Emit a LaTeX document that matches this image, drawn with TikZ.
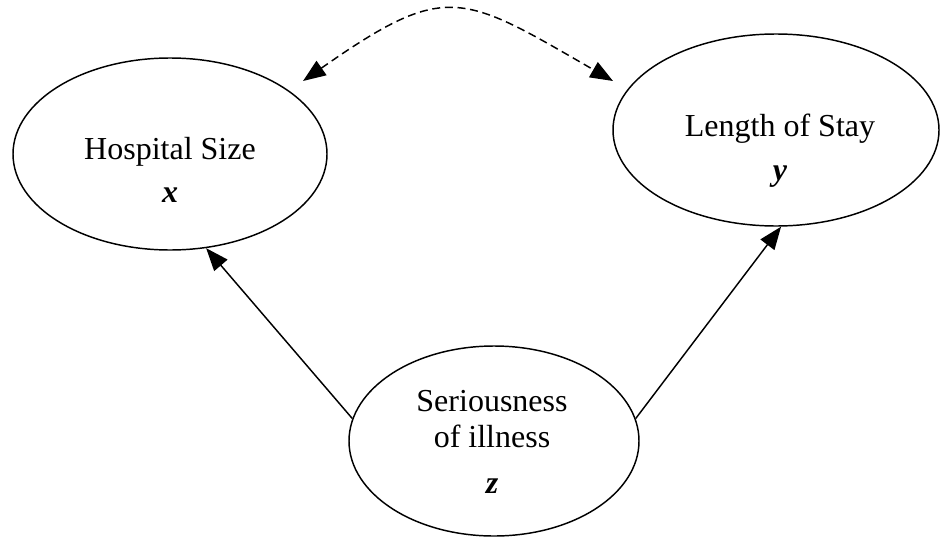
\documentclass[tikz,border=0pt]{standalone}
\usepackage{fontspec}
\setmainfont{Liberation Serif}
\usetikzlibrary{shapes.geometric,arrows.meta}
\tikzstyle{var}=[ellipse,draw=black,line width=1.1pt,inner sep=0pt]
\tikzstyle{txt}=[anchor=base,inner sep=0pt,font=\fontsize{24}{29}\selectfont]
\tikzstyle{arr}=[-{Triangle[length=17pt,width=13pt]},line width=1.1pt]
\tikzstyle{both}=[{Triangle[length=17pt,width=13pt]}-{Triangle[length=17pt,width=13pt]},line width=1.1pt,dash pattern=on 6pt off 3.5pt]

\begin{document}
\begin{tikzpicture}[x=0.75pt,y=0.75pt]
\useasboundingbox (0,0) rectangle (941,537);

% the three variables
\node (hs) at (170,383) [var,minimum width=235.5pt,minimum height=144pt] {};
\node (los) at (776,407) [var,minimum width=244.5pt,minimum height=144pt] {};
\node (sz) at (494,96) [var,minimum width=217.5pt,minimum height=142.5pt] {};

\node (hs-t) at ([shift={(0,-5)}]hs.center) [txt] {Hospital Size};
\node (hs-v) at ([shift={(0,-48)}]hs.center) [txt] {\textbf{\textit{x}}};
\node (los-t) at ([shift={(4,-6)}]los.center) [txt] {Length of Stay};
\node (los-v) at ([shift={(4,-50)}]los.center) [txt] {\textbf{\textit{y}}};
\node (sz-t) at ([shift={(-2,30)}]sz.center) [txt] {Seriousness};
\node (sz-u) at ([shift={(-2,-6)}]sz.center) [txt] {of illness};
\node (sz-v) at ([shift={(-2,-52)}]sz.center) [txt] {\textbf{\textit{z}}};

% causal links
\draw[arr] (sz.171) -- (hs.291);
\draw[arr] (sz.9) -- (los.273.5);

% correlation
\coordinate (hs-c) at ([shift={(133,73)}]hs.center);
\coordinate (los-c) at ([shift={(-163,49)}]los.center);
\draw[both] (hs-c) to [out=35,in=150,looseness=1.45] (los-c);
\end{tikzpicture}
\end{document}
